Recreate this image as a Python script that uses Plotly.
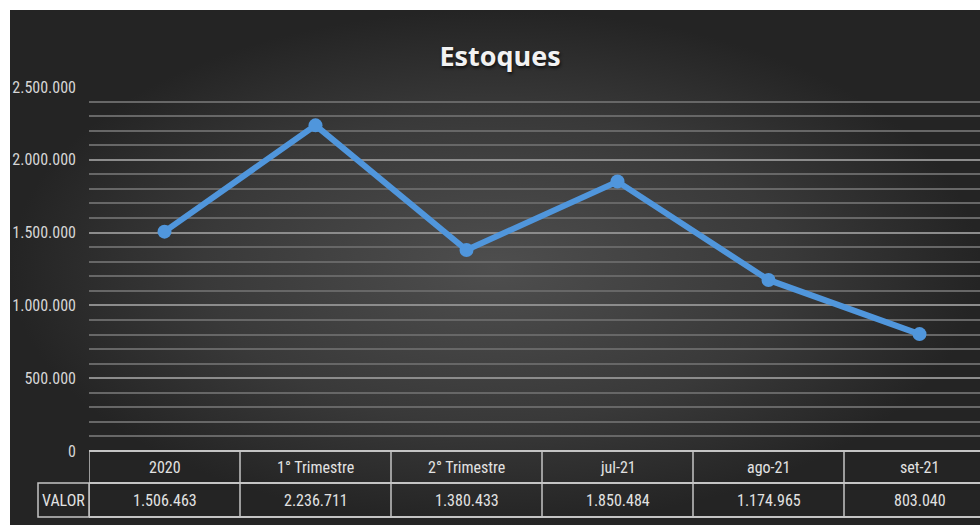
# Estoques line chart with an Excel-style data table underneath.
# Dark radial background, Brazilian number formatting.

import plotly.graph_objects as go

# ── data ────────────────────────────────────────────────────────────────
categories = ["2020", "1° Trimestre", "2° Trimestre", "jul-21", "ago-21", "set-21"]
valor = [1506463, 2236711, 1380433, 1850484, 1174965, 803040]
row_label = "VALOR"
title_text = "Estoques"

W, H = 980, 525
FONT = "Liberation Sans Narrow, Roboto Condensed, Open Sans, sans-serif"
LINE_BLUE = "#5096dc"
TABLE_LINE = "#c4c4c4"
TEXT = "#e2e2e2"


def px_x(p):
    return p / W


def px_y(p):
    # pixel from top -> paper fraction from bottom
    return (H - p) / H


def br(n):
    return f"{n:,}".replace(",", ".")


fig = go.Figure()

# background: radial gradient panel (drawn on the first subplot, below everything)
fig.add_trace(go.Scatter(
    x=[0, 1, 1, 0, 0], y=[0, 0, 1, 1, 0],
    xaxis="x", yaxis="y",
    mode="none", fill="toself",
    fillgradient=dict(type="radial", colorscale=[[0, "#4e4e4e"], [0.6, "#393939"], [1, "#242424"]]),
    hoverinfo="skip", showlegend=False,
))

# the series
fig.add_trace(go.Scatter(
    x=list(range(len(categories))), y=valor,
    xaxis="x2", yaxis="y2",
    mode="lines+markers",
    line=dict(color=LINE_BLUE, width=6),
    marker=dict(color=LINE_BLUE, size=14),
    customdata=categories,
    hovertemplate="%{customdata}: %{y:,d}<extra></extra>",
    showlegend=False,
))

# ── data table below the plot ──────────────────────────────────────────
y_top, y_mid, y_bot = px_y(451), px_y(483), px_y(517)
shapes = [
    dict(type="line", xref="x2", yref="paper", x0=-0.5, x1=len(categories) - 0.5,
         y0=y, y1=y, line=dict(color=TABLE_LINE, width=2))
    for y in (y_top, y_mid, y_bot)
]
shapes += [
    dict(type="line", xref="x2", yref="paper", x0=k - 0.5, x1=k - 0.5,
         y0=y_bot, y1=y_top, line=dict(color=TABLE_LINE, width=1.5))
    for k in range(len(categories) + 1)
]
# row header cell
shapes.append(dict(type="rect", xref="paper", yref="paper",
                   x0=px_x(38), x1=px_x(89), y0=y_bot, y1=y_mid,
                   line=dict(color=TABLE_LINE, width=1.5)))

cell_font = dict(family=FONT, size=16, color=TEXT)
annotations = []
for k, (c, v) in enumerate(zip(categories, valor)):
    annotations.append(dict(x=k, y=(y_top + y_mid) / 2, xref="x2", yref="paper", text=c,
                            xanchor="center", yanchor="middle", showarrow=False, font=cell_font))
    annotations.append(dict(x=k, y=(y_mid + y_bot) / 2, xref="x2", yref="paper", text=br(v),
                            xanchor="center", yanchor="middle", showarrow=False, font=cell_font))
annotations.append(dict(x=px_x(63.5), y=(y_mid + y_bot) / 2, xref="paper", yref="paper",
                        text=row_label, xanchor="center", yanchor="middle",
                        showarrow=False, font=cell_font))

fig.update_layout(
    width=W, height=H,
    margin=dict(l=0, r=0, t=0, b=0, pad=0, autoexpand=False),
    paper_bgcolor="white",
    plot_bgcolor="rgba(0,0,0,0)",
    separators=",.",
    title=dict(
        text=f"<b>{title_text}</b>",
        x=px_x(500), xanchor="center",
        y=px_y(57), yanchor="middle",
        font=dict(family="Open Sans, sans-serif", size=27, color="#f2f2f2",
                  shadow="1px 2px 3px #111"),
    ),
    xaxis=dict(domain=[px_x(10), 1], range=[0, 1], visible=False, fixedrange=True, automargin=False),
    yaxis=dict(domain=[0, px_y(10)], range=[0, 1], visible=False, fixedrange=True, automargin=False),
    xaxis2=dict(
        domain=[px_x(89), 1],
        range=[-0.5, -0.5 + (W - 89) / 151],
        visible=False, anchor="y2", fixedrange=True, automargin=False,
    ),
    yaxis2=dict(
        domain=[px_y(451), px_y(87)],
        range=[0, 2500000],
        dtick=500000, tickformat=",d",
        showgrid=True, gridcolor="#8c8c8c", gridwidth=2,
        minor=dict(dtick=100000, showgrid=True, gridcolor="#676767", gridwidth=1.5),
        zeroline=False, showline=False,
        ticks="", ticklabelstandoff=12,
        tickfont=dict(family=FONT, size=16, color="#d6d6d6"),
        anchor="x2", fixedrange=True, automargin=False,
    ),
    shapes=shapes,
    annotations=annotations,
)

# drop the browser's default body margin so the figure fills the window exactly
fig.write_html(
    "out.html",
    config={"displayModeBar": False},
    post_script="document.documentElement.style.overflow='hidden';"
                "document.body.style.margin='0px';document.body.style.overflow='hidden';",
)
